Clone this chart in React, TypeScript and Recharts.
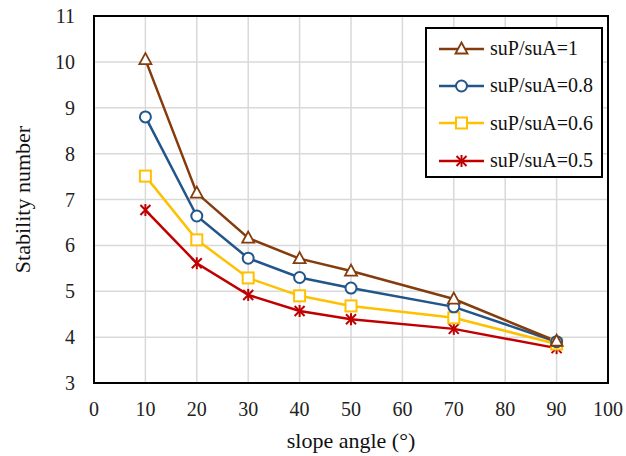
import {
  CartesianGrid,
  Line,
  LineChart,
  ReferenceArea,
  XAxis,
  YAxis,
} from "recharts";

const angles = [10, 20, 30, 40, 50, 70, 90];
const ratio1 = [10.05, 7.14, 6.16, 5.71, 5.44, 4.83, 3.91];
const ratio08 = [8.8, 6.64, 5.72, 5.3, 5.07, 4.66, 3.9];
const ratio06 = [7.51, 6.12, 5.29, 4.9, 4.68, 4.42, 3.85];
const ratio05 = [6.77, 5.61, 4.92, 4.57, 4.39, 4.18, 3.76];

const xTicks = [0, 10, 20, 30, 40, 50, 60, 70, 80, 90, 100];
const yTicks = [3, 4, 5, 6, 7, 8, 9, 10, 11];

const data = angles.map((a, i) => ({
  angle: a,
  r1: ratio1[i],
  r08: ratio08[i],
  r06: ratio06[i],
  r05: ratio05[i],
}));

const FONT = "Times New Roman, Liberation Serif, DejaVu Serif, serif";
const BROWN = "#843C0C";
const BLUE = "#22558A";
const YELLOW = "#FFC000";
const RED = "#C00000";

const marker = (kind: string, cx: number, cy: number, key?: any) => {
  if (kind === "tri")
    return (
      <polygon
        key={key}
        points={`${cx},${cy - 6.5} ${cx - 6},${cy + 4.5} ${cx + 6},${cy + 4.5}`}
        fill="#fff"
        stroke={BROWN}
        strokeWidth={1.8}
      />
    );
  if (kind === "circle")
    return <circle key={key} cx={cx} cy={cy} r={5.5} fill="#fff" stroke={BLUE} strokeWidth={2} />;
  if (kind === "square")
    return (
      <rect key={key} x={cx - 5.5} y={cy - 5.5} width={11} height={11} fill="#fff" stroke={YELLOW} strokeWidth={2} />
    );
  return (
    <g key={key} stroke={RED} strokeWidth={2}>
      <line x1={cx - 5} y1={cy - 5} x2={cx + 5} y2={cy + 5} />
      <line x1={cx + 5} y1={cy - 5} x2={cx - 5} y2={cy + 5} />
      <line x1={cx} y1={cy - 6} x2={cx} y2={cy + 6} />
    </g>
  );
};

const series = [
  { key: "r1", name: "suP/suA=1", color: BROWN, kind: "tri" },
  { key: "r08", name: "suP/suA=0.8", color: BLUE, kind: "circle" },
  { key: "r06", name: "suP/suA=0.6", color: YELLOW, kind: "square" },
  { key: "r05", name: "suP/suA=0.5", color: RED, kind: "star" },
];

const ChartLegend = () => (
  <div
    style={{
      position: "absolute",
      left: 425,
      top: 27,
      width: 174,
      height: 146,
      border: "2px solid #000",
      background: "#fff",
      paddingTop: 1,
    }}
  >
    {series.map((s) => (
      <div key={s.key} style={{ display: "flex", alignItems: "center", height: 37.3 }}>
        <svg width={62} height={20} style={{ marginLeft: 8 }}>
          <line x1={4} y1={10} x2={49} y2={10} stroke={s.color} strokeWidth={2.5} />
          {marker(s.kind, 26.5, 10)}
        </svg>
        <span style={{ fontFamily: FONT, fontSize: 20, color: "#111", marginLeft: -7 }}>{s.name}</span>
      </div>
    ))}
  </div>
);

export default function App() {
  return (
    <div style={{ position: "absolute", left: 0, top: 0, width: 626, height: 456, background: "#fff" }}>
      <LineChart width={626} height={456} data={data} margin={{ top: 16, right: 18, left: 10, bottom: 9 }}>
        <CartesianGrid stroke="#d9d9d9" strokeWidth={1.5} />
        <XAxis
          dataKey="angle"
          type="number"
          domain={[0, 100]}
          ticks={xTicks}
          interval={0}
          height={64}
          tickLine={false}
          axisLine={false}
          tickSize={0}
          tickMargin={19}
          tick={{ fill: "#222", fontSize: 20, fontFamily: FONT }}
          label={{
            value: "slope angle (°)",
            position: "insideBottom",
            offset: -1,
            fill: "#111",
            fontSize: 22,
            fontFamily: FONT,
          }}
        />
        <YAxis
          type="number"
          domain={[3, 11]}
          ticks={yTicks}
          interval={0}
          width={84}
          tickLine={false}
          axisLine={false}
          tickSize={0}
          tickMargin={19}
          tick={{ fill: "#222", fontSize: 20, fontFamily: FONT }}
          label={{
            value: "Stability number",
            angle: -90,
            position: "insideLeft",
            offset: 12,
            fill: "#111",
            fontSize: 22,
            fontFamily: FONT,
            style: { textAnchor: "middle" },
          }}
        />
        <ReferenceArea x1={0} x2={100} y1={3} y2={11} fill="none" stroke="#000" strokeWidth={2} strokeOpacity={1} />
        {[...series].reverse().map((s) => (
          <Line
            key={s.key}
            dataKey={s.key}
            name={s.name}
            type="linear"
            stroke={s.color}
            strokeWidth={2.5}
            isAnimationActive={false}
            dot={(p: any) => marker(s.kind, p.cx, p.cy, p.key ?? `${s.key}-${p.index}`)}
            activeDot={false}
          />
        ))}
      </LineChart>
      <ChartLegend />
    </div>
  );
}
